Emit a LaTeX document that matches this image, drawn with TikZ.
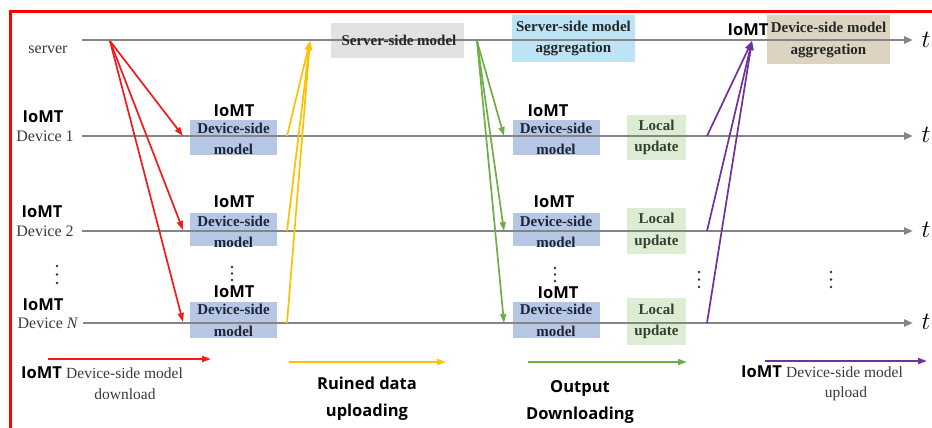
\documentclass[tikz,border=0pt]{standalone}
\usepackage{fontspec}
\setmainfont{Liberation Serif}
\newfontfamily\iomtfont{Open Sans}
\usetikzlibrary{arrows.meta}

\definecolor{linegray}{HTML}{858585}
\definecolor{frameRed}{HTML}{FF0000}
\definecolor{dlRed}{HTML}{F21A1A}
\definecolor{upYellow}{HTML}{FFC000}
\definecolor{dnGreen}{HTML}{70AD47}
\definecolor{upPurple}{HTML}{7030A0}
\definecolor{devBlue}{HTML}{B6C7E6}
\definecolor{srvGray}{HTML}{E2E2E2}
\definecolor{aggBlue}{HTML}{BDE4F6}
\definecolor{locGreen}{HTML}{DDEDD3}
\definecolor{aggTan}{HTML}{DCD3C1}
\definecolor{labelGray}{HTML}{3A3A3A}
\definecolor{boxInk}{HTML}{1E2436}
\definecolor{locInk}{HTML}{34402E}

\tikzset{
  timeline/.style={draw=linegray, line width=2.3pt,
    -{Triangle[length=9pt,width=7pt]}},
  flow/.style={line width=1.7pt, -{Triangle[length=9pt,width=6pt]}},
  boxfill/.style={inner sep=0pt, draw=none},
  boxtext/.style={align=center, text=boxInk, inner sep=0pt,
    font=\fontsize{15}{21.5}\selectfont\bfseries},
  iomt/.style={inner sep=0pt, text=black,
    font=\iomtfont\fontsize{16.5}{18}\selectfont\bfseries},
  devlabel/.style={inner sep=0pt, text=labelGray,
    font=\fontsize{16}{18}\selectfont},
  legtext/.style={inner sep=0pt, text=labelGray, align=center,
    font=\fontsize{15.5}{22}\selectfont},
  legbold/.style={inner sep=0pt, text=black, align=center,
    font=\iomtfont\fontsize{16.5}{27}\selectfont\bfseries},
  tlabel/.style={inner sep=0pt, font=\fontsize{27}{27}\selectfont},
}

\begin{document}
\begin{tikzpicture}[x=1pt,y=-1pt]
\useasboundingbox (0,0) rectangle (932,428);

% frame
\draw[frameRed, line width=3pt] (10,430) -- (10,12) -- (934,12);

% ---- box backgrounds ----
\node[boxfill, fill=srvGray, minimum width=133pt, minimum height=35pt] (srvbox) at (397,40.5) {};
\node[boxfill, fill=aggBlue, minimum width=123pt, minimum height=47pt] (aggbox) at (573.5,38.5) {};
\node[boxfill, fill=aggTan, minimum width=123pt, minimum height=49pt] (devagg) at (828.5,39.5) {};

\foreach \c/\x in {a/233.5, b/556} {
  \node[boxfill, fill=devBlue, minimum width=87pt, minimum height=35pt] (m1\c) at (\x,137.5) {};
  \node[boxfill, fill=devBlue, minimum width=87pt, minimum height=33pt] (m2\c) at (\x,229.5) {};
  \node[boxfill, fill=devBlue, minimum width=87pt, minimum height=36pt] (mN\c) at (\x,320) {};
}
\node[boxfill, fill=locGreen, minimum width=59pt, minimum height=45pt] (lu1) at (656.5,137.5) {};
\node[boxfill, fill=locGreen, minimum width=59pt, minimum height=46pt] (lu2) at (656.5,231) {};
\node[boxfill, fill=locGreen, minimum width=59pt, minimum height=47pt] (luN) at (656.5,321.5) {};

% ---- time lines ----
\coordinate (s0) at (82,40);   \coordinate (s1) at (913,40);
\coordinate (d10) at (82,136); \coordinate (d11) at (913,136);
\coordinate (d20) at (82,231); \coordinate (d21) at (913,231);
\coordinate (dN0) at (83,323); \coordinate (dN1) at (913,323);
\draw[timeline] (s0) -- (s1);
\draw[timeline] (d10) -- (d11);
\draw[timeline] (d20) -- (d21);
\draw[timeline] (dN0) -- (dN1);

\node[tlabel] (t0) at (926,40) {$t$};
\node[tlabel] (t1) at (926,135) {$t$};
\node[tlabel] (t2) at (926,230) {$t$};
\node[tlabel] (tN) at (926,322) {$t$};

% ---- model download (red) ----
\coordinate (rs) at (110,41);
\coordinate (r1) at (183,136);
\coordinate (r2) at (183,230);
\coordinate (rN) at (183,322);
\foreach \e in {r1,r2,rN} \draw[flow, dlRed] (rs) -- (\e);

% ---- data uploading (yellow) ----
\coordinate (ye) at (310,41);
\coordinate (y1) at (287,136);
\coordinate (y2) at (287,231);
\coordinate (yN) at (287,323);
\foreach \s in {y1,y2,yN} \draw[flow, upYellow] (\s) -- (ye);

% ---- output downloading (green) ----
\coordinate (gs) at (477,41);
\coordinate (g1) at (504,136);
\coordinate (g2) at (504,231);
\coordinate (gN) at (504,323);
\foreach \e in {g1,g2,gN} \draw[flow, dnGreen] (gs) -- (\e);

% ---- model upload (purple) ----
\coordinate (pe) at (752,41);
\coordinate (p1) at (707,136);
\coordinate (p2) at (707,231);
\coordinate (pN) at (707,323);
\foreach \s in {p1,p2,pN} \draw[flow, upPurple] (\s) -- (pe);

% ---- box texts ----
\node[boxtext, text=black!85] (srvtxt) at (399,40) {Server-side model};
\node[boxtext, text=black!85] (aggtxt) at (573.5,38.5) {Server-side model\\aggregation};
\node[boxtext, text=black!85] (devaggtxt) at (828.5,40) {Device-side model\\aggregation};
\node[iomt] (aggiomt) at (748,30) {IoMT};

\foreach \c/\x in {a/233.5, b/556} {
  \node[boxtext] at (\x,139) {Device-side\\model};
  \node[boxtext] at (\x,232) {Device-side\\model};
  \node[boxtext] at (\x,320.5) {Device-side\\model};
}
\node[iomt] (ia1) at (234,111) {IoMT};
\node[iomt] (ia2) at (234,202) {IoMT};
\node[iomt] (iaN) at (234,291.5) {IoMT};
\node[iomt] (ib1) at (548,111) {IoMT};
\node[iomt] (ib2) at (554,202) {IoMT};
\node[iomt] (ibN) at (558,293) {IoMT};

\foreach \n in {lu1,lu2,luN}
  \node[boxtext, text=locInk] at (\n) {Local\\update};

% ---- device labels ----
\node[devlabel] (srvlab) at (48,50) {server};
\node[iomt] (il1) at (43,117) {IoMT};
\node[devlabel] (dl1) at (45,136) {Device 1};
\node[iomt] (il2) at (42,212) {IoMT};
\node[devlabel] (dl2) at (45,231) {Device 2};
\node[iomt] (ilN) at (43,305) {IoMT};
\node[devlabel] (dlN) at (48,323) {Device \textit{N}};

% ---- vertical ellipses ----
\foreach \x/\y/\g in {57/266/8.5, 232/267/6.5, 555/268/6.5, 699/272/7.5, 831/272/7.5}
  \foreach \k in {0,1,2}
    \fill[black!80] (\x,\y+\k*\g) circle (1.4pt);

% ---- legend ----
\coordinate (lr0) at (48,359);  \coordinate (lr1) at (211,359);
\coordinate (ly0) at (289,362); \coordinate (ly1) at (446,362);
\coordinate (lg0) at (528,362); \coordinate (lg1) at (687,362);
\coordinate (lp0) at (765,361); \coordinate (lp1) at (927,361);
\draw[flow, dlRed] (lr0) -- (lr1);
\draw[flow, upYellow] (ly0) -- (ly1);
\draw[flow, dnGreen] (lg0) -- (lg1);
\draw[flow, upPurple] (lp0) -- (lp1);

\node[iomt] (lgi1) at (41.5,373) {IoMT};
\node[legtext, anchor=west] (lgt1) at (66,373) {Device-side model};
\node[legtext] (lgt1b) at (125,394) {download};
\node[legbold] (lgy) at (367,399) {Ruined data\\uploading};
\node[legbold] (lgg) at (580,402) {Output\\Downloading};
\node[iomt] (lgi4) at (761.5,372) {IoMT};
\node[legtext, anchor=west] (lgt4) at (786,372) {Device-side model};
\node[legtext] (lgt4b) at (846,394) {upload};
\end{tikzpicture}
\end{document}
